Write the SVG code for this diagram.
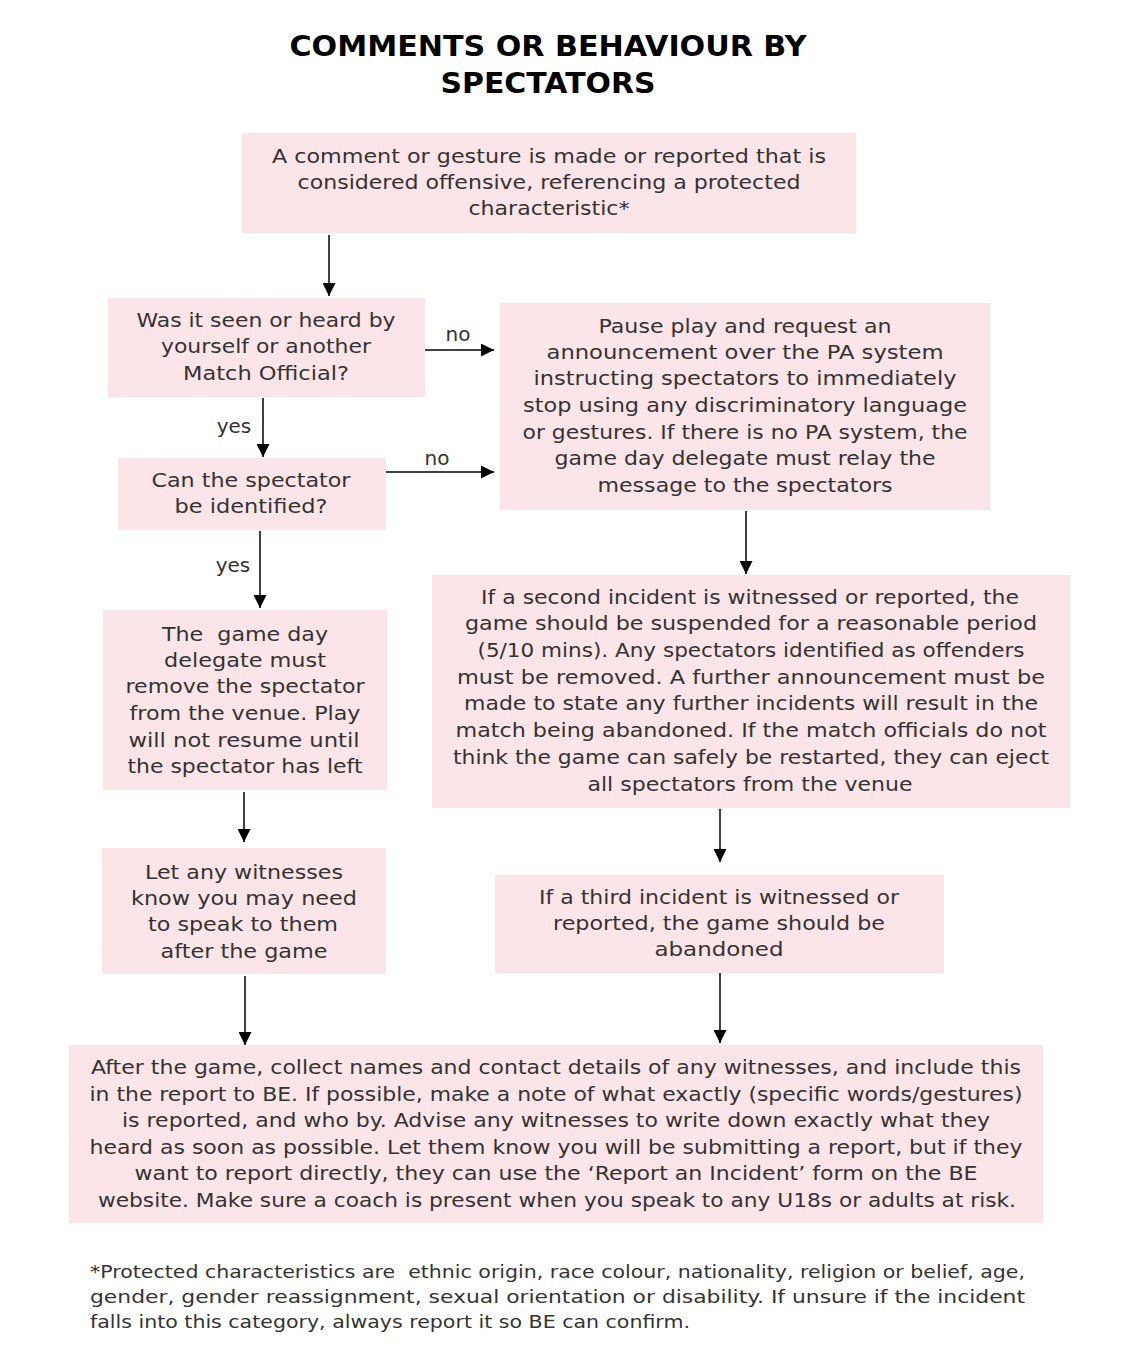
<svg xmlns="http://www.w3.org/2000/svg" width="1126" height="1372" viewBox="0 0 1126 1372">
<style>
.box{fill:#FCE5E8;}
.t{font-family:"DejaVu Sans","Liberation Sans",sans-serif;font-size:20px;fill:#333333;text-anchor:middle;}
.title{font-family:"DejaVu Sans","Liberation Sans",sans-serif;font-size:28px;font-weight:bold;fill:#000;text-anchor:middle;}
.lbl{font-family:"DejaVu Sans","Liberation Sans",sans-serif;font-size:20px;fill:#333333;text-anchor:middle;}
.fn{font-family:"DejaVu Sans","Liberation Sans",sans-serif;font-size:18px;fill:#333333;}
.c{stroke:#000;stroke-width:1.5;fill:none;marker-end:url(#ah);}
</style>
<defs>
<marker id="ah" markerUnits="userSpaceOnUse" markerWidth="13" markerHeight="13" refX="13" refY="6.5" orient="auto">
<path d="M0,0 L13,6.5 L0,13 z" fill="#000"/>
</marker>
</defs>
<rect width="1126" height="1372" fill="#fff"/>
<g id="title">
<text class="title" x="548" y="56" textLength="517" lengthAdjust="spacingAndGlyphs">COMMENTS OR BEHAVIOUR BY</text>
<text class="title" x="548" y="93" textLength="215" lengthAdjust="spacingAndGlyphs">SPECTATORS</text>
</g>
<g id="connectors">
<path class="c" d="M329,235 V296"/>
<path class="c" d="M425,350 H494"/>
<path class="c" d="M263,398 V457"/>
<path class="c" d="M386,472 H494"/>
<path class="c" d="M746,511 V574"/>
<path class="c" d="M260,531 V608"/>
<path class="c" d="M244,792 V842"/>
<path class="c" d="M720,809 V862"/>
<path class="c" d="M245,976 V1045"/>
<path class="c" d="M720,973 V1043"/>
<text class="lbl" x="458" y="341">no</text>
<text class="lbl" x="437" y="465">no</text>
<text class="lbl" x="234" y="433">yes</text>
<text class="lbl" x="233" y="572">yes</text>
</g>
<g id="n1">
<rect class="box" x="242" y="133" width="614" height="100"/>
<text class="t" x="549" y="163" textLength="554" lengthAdjust="spacingAndGlyphs">A comment or gesture is made or reported that is</text>
<text class="t" x="549" y="189" textLength="503" lengthAdjust="spacingAndGlyphs">considered offensive, referencing a protected</text>
<text class="t" x="549" y="215" textLength="161" lengthAdjust="spacingAndGlyphs">characteristic*</text>
</g>
<g id="n2">
<rect class="box" x="108" y="298" width="317" height="99"/>
<text class="t" x="266" y="327" textLength="259" lengthAdjust="spacingAndGlyphs">Was it seen or heard by</text>
<text class="t" x="266" y="353" textLength="210" lengthAdjust="spacingAndGlyphs">yourself or another</text>
<text class="t" x="266" y="380" textLength="166" lengthAdjust="spacingAndGlyphs">Match Official?</text>
</g>
<g id="n3">
<rect class="box" x="500" y="303" width="490" height="207"/>
<text class="t" x="745" y="333" textLength="293" lengthAdjust="spacingAndGlyphs">Pause play and request an</text>
<text class="t" x="745" y="359" textLength="397" lengthAdjust="spacingAndGlyphs">announcement over the PA system</text>
<text class="t" x="745" y="385" textLength="423" lengthAdjust="spacingAndGlyphs">instructing spectators to immediately</text>
<text class="t" x="745" y="412" textLength="444" lengthAdjust="spacingAndGlyphs">stop using any discriminatory language</text>
<text class="t" x="745" y="439" textLength="445" lengthAdjust="spacingAndGlyphs">or gestures. If there is no PA system, the</text>
<text class="t" x="745" y="465" textLength="381" lengthAdjust="spacingAndGlyphs">game day delegate must relay the</text>
<text class="t" x="745" y="492" textLength="295" lengthAdjust="spacingAndGlyphs">message to the spectators</text>
</g>
<g id="n4">
<rect class="box" x="118" y="458" width="268" height="72"/>
<text class="t" x="251" y="487" textLength="199" lengthAdjust="spacingAndGlyphs">Can the spectator</text>
<text class="t" x="251" y="513" textLength="153" lengthAdjust="spacingAndGlyphs">be identified?</text>
</g>
<g id="n5">
<rect class="box" x="432" y="575" width="638" height="233"/>
<text class="t" x="750" y="604" textLength="538" lengthAdjust="spacingAndGlyphs">If a second incident is witnessed or reported, the</text>
<text class="t" x="751" y="630" textLength="572" lengthAdjust="spacingAndGlyphs">game should be suspended for a reasonable period</text>
<text class="t" x="751" y="657" textLength="547" lengthAdjust="spacingAndGlyphs">(5/10 mins). Any spectators identified as offenders</text>
<text class="t" x="751" y="684" textLength="588" lengthAdjust="spacingAndGlyphs">must be removed. A further announcement must be</text>
<text class="t" x="751" y="710" textLength="574" lengthAdjust="spacingAndGlyphs">made to state any further incidents will result in the</text>
<text class="t" x="751" y="737" textLength="591" lengthAdjust="spacingAndGlyphs">match being abandoned. If the match officials do not</text>
<text class="t" x="751" y="764" textLength="596" lengthAdjust="spacingAndGlyphs">think the game can safely be restarted, they can eject</text>
<text class="t" x="750" y="791" textLength="325" lengthAdjust="spacingAndGlyphs">all spectators from the venue</text>
</g>
<g id="n6">
<rect class="box" x="103" y="610" width="284" height="180"/>
<text class="t" x="245" y="641" textLength="166" lengthAdjust="spacingAndGlyphs" xml:space="preserve">The  game day</text>
<text class="t" x="245" y="667" textLength="162" lengthAdjust="spacingAndGlyphs">delegate must</text>
<text class="t" x="245" y="693" textLength="239" lengthAdjust="spacingAndGlyphs">remove the spectator</text>
<text class="t" x="245" y="720" textLength="231" lengthAdjust="spacingAndGlyphs">from the venue. Play</text>
<text class="t" x="244" y="747" textLength="231" lengthAdjust="spacingAndGlyphs">will not resume until</text>
<text class="t" x="245" y="773" textLength="235" lengthAdjust="spacingAndGlyphs">the spectator has left</text>
</g>
<g id="n7">
<rect class="box" x="102" y="848" width="284" height="126"/>
<text class="t" x="244" y="879" textLength="198" lengthAdjust="spacingAndGlyphs">Let any witnesses</text>
<text class="t" x="244" y="905" textLength="226" lengthAdjust="spacingAndGlyphs">know you may need</text>
<text class="t" x="243" y="931" textLength="190" lengthAdjust="spacingAndGlyphs">to speak to them</text>
<text class="t" x="244" y="958" textLength="167" lengthAdjust="spacingAndGlyphs">after the game</text>
</g>
<g id="n8">
<rect class="box" x="495" y="875" width="449" height="98"/>
<text class="t" x="719" y="904" textLength="360" lengthAdjust="spacingAndGlyphs">If a third incident is witnessed or</text>
<text class="t" x="719" y="930" textLength="332" lengthAdjust="spacingAndGlyphs">reported, the game should be</text>
<text class="t" x="719" y="956" textLength="129" lengthAdjust="spacingAndGlyphs">abandoned</text>
</g>
<g id="n9">
<rect class="box" x="69" y="1045" width="974" height="178"/>
<text class="t" x="556" y="1074" textLength="930" lengthAdjust="spacingAndGlyphs">After the game, collect names and contact details of any witnesses, and include this</text>
<text class="t" x="556" y="1101" textLength="933" lengthAdjust="spacingAndGlyphs">in the report to BE. If possible, make a note of what exactly (specific words/gestures)</text>
<text class="t" x="556" y="1127" textLength="868" lengthAdjust="spacingAndGlyphs">is reported, and who by. Advise any witnesses to write down exactly what they</text>
<text class="t" x="556" y="1154" textLength="933" lengthAdjust="spacingAndGlyphs">heard as soon as possible. Let them know you will be submitting a report, but if they</text>
<text class="t" x="556" y="1180" textLength="843" lengthAdjust="spacingAndGlyphs">want to report directly, they can use the ‘Report an Incident’ form on the BE</text>
<text class="t" x="557" y="1207" textLength="918" lengthAdjust="spacingAndGlyphs">website. Make sure a coach is present when you speak to any U18s or adults at risk.</text>
</g>
<g id="footnote">
<text class="fn" x="90" y="1278" textLength="935" lengthAdjust="spacingAndGlyphs" xml:space="preserve">*Protected characteristics are  ethnic origin, race colour, nationality, religion or belief, age,</text>
<text class="fn" x="90" y="1303" textLength="935" lengthAdjust="spacingAndGlyphs">gender, gender reassignment, sexual orientation or disability. If unsure if the incident</text>
<text class="fn" x="90" y="1328" textLength="600" lengthAdjust="spacingAndGlyphs">falls into this category, always report it so BE can confirm.</text>
</g>
</svg>
